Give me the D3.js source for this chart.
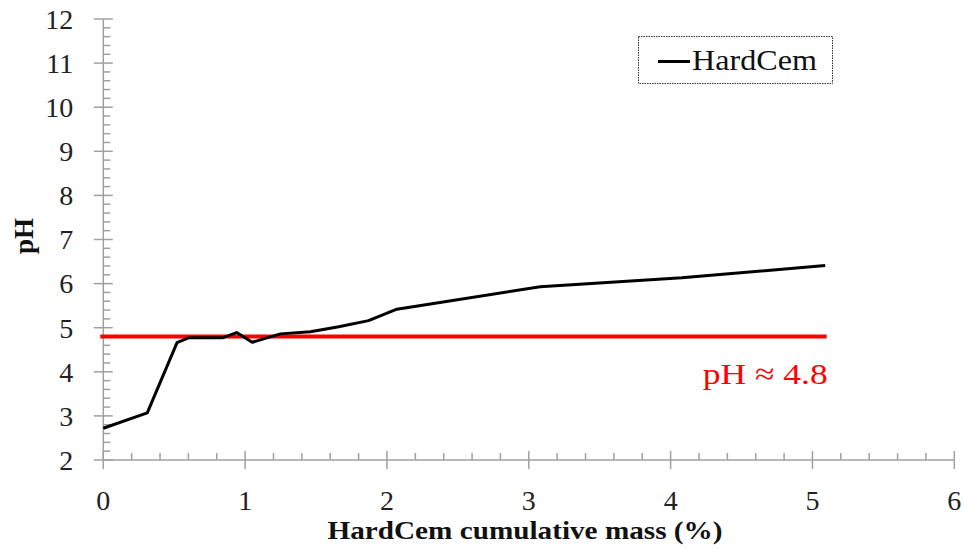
<!DOCTYPE html>
<html>
<head>
<meta charset="utf-8">
<script src="https://cdn.jsdelivr.net/npm/d3@7"></script>
<style>
  html, body { margin: 0; padding: 0; background: #fff; }
  svg { display: block; }
  text { font-family: "Liberation Serif", "DejaVu Serif", serif; }
</style>
</head>
<body>
<svg id="chart" width="964" height="549"></svg>
<script>
// ---- data ----
const massPct = [0, 0.31, 0.52, 0.60, 0.84, 0.94, 1.05, 1.25, 1.46, 1.66, 1.87, 2.07, 3.08, 4.08, 5.09];
const pHValues = [2.72, 3.07, 4.66, 4.77, 4.77, 4.89, 4.67, 4.86, 4.91, 5.02, 5.16, 5.42, 5.93, 6.13, 6.41];
const thresholdPH = 4.8;
const thresholdRange = [0, 5.1];
const xTicks = [0, 1, 2, 3, 4, 5, 6];
const yTicks = [2, 3, 4, 5, 6, 7, 8, 9, 10, 11, 12];
const seriesName = "HardCem";
const thresholdLabel = "pH ≈ 4.8";
const xTitle = "HardCem cumulative mass (%)";
const yTitle = "pH";

// ---- layout ----
const svg = d3.select("#chart");
const x = d3.scaleLinear().domain([0, 6]).range([103.3, 954.3]);
const y = d3.scaleLinear().domain([2, 12]).range([460, 19]);
const axisColor = "#a0a0a0";

const minorX = d3.range(0, 6.0001, 0.2).filter(v => Math.abs(v - Math.round(v)) > 1e-6);
const minorY = d3.range(2, 12.0001, 0.2).filter(v => Math.abs(v - Math.round(v)) > 1e-6);

// Y axis
const gy = svg.append("g").attr("transform", `translate(${x(0)},0)`);
gy.append("line").attr("x1", 0).attr("x2", 0).attr("y1", y(2)).attr("y2", y(12))
  .attr("stroke", axisColor).attr("stroke-width", 1.5);
gy.selectAll("line.minor").data(minorY).enter().append("line")
  .attr("class", "minor")
  .attr("x1", 0).attr("x2", 7).attr("y1", d => y(d)).attr("y2", d => y(d))
  .attr("stroke", axisColor).attr("stroke-width", 1.5);
gy.selectAll("line.major").data(yTicks).enter().append("line")
  .attr("class", "major")
  .attr("x1", -9.5).attr("x2", 9.5).attr("y1", d => y(d)).attr("y2", d => y(d))
  .attr("stroke", axisColor).attr("stroke-width", 1.5);
gy.selectAll("text").data(yTicks).enter().append("text")
  .attr("x", -30).attr("y", d => y(d)).attr("dy", "0.35em")
  .attr("text-anchor", "end").attr("font-size", 28).attr("fill", "#222")
  .text(d => d);

// X axis
const gx = svg.append("g").attr("transform", `translate(0,${y(2)})`);
gx.append("line").attr("x1", x(0)).attr("x2", x(6)).attr("y1", 0).attr("y2", 0)
  .attr("stroke", axisColor).attr("stroke-width", 1.5);
gx.selectAll("line.minor").data(minorX).enter().append("line")
  .attr("class", "minor")
  .attr("x1", d => x(d)).attr("x2", d => x(d)).attr("y1", 0).attr("y2", -7)
  .attr("stroke", axisColor).attr("stroke-width", 1.5);
gx.selectAll("line.major").data(xTicks).enter().append("line")
  .attr("class", "major")
  .attr("x1", d => x(d)).attr("x2", d => x(d)).attr("y1", -9).attr("y2", 9)
  .attr("stroke", axisColor).attr("stroke-width", 1.5);
gx.selectAll("text").data(xTicks).enter().append("text")
  .attr("x", d => x(d)).attr("y", 50)
  .attr("text-anchor", "middle").attr("font-size", 28).attr("fill", "#222")
  .text(d => d);

// Threshold line
svg.append("line")
  .attr("x1", x(thresholdRange[0]) - 3).attr("x2", x(thresholdRange[1]))
  .attr("y1", y(thresholdPH)).attr("y2", y(thresholdPH))
  .attr("stroke", "#ff0000").attr("stroke-width", 4);

svg.append("text")
  .attr("x", x(thresholdRange[1]) + 1).attr("y", 384)
  .attr("text-anchor", "end").attr("font-size", 30).attr("fill", "#ff0000")
  .attr("textLength", 125).attr("lengthAdjust", "spacingAndGlyphs")
  .text(thresholdLabel);

// Series line
const line = d3.line().x((d, i) => x(massPct[i])).y(d => y(d));
svg.append("path").datum(pHValues)
  .attr("d", line).attr("fill", "none")
  .attr("stroke", "#000").attr("stroke-width", 3).attr("stroke-linejoin", "round");

// Legend
const lg = svg.append("g");
lg.append("rect").attr("x", 638.5).attr("y", 36.5).attr("width", 194).attr("height", 47)
  .attr("fill", "#fff").attr("stroke", "#333").attr("stroke-width", 1)
  .attr("stroke-dasharray", "1.5,1");
lg.append("line").attr("x1", 658).attr("x2", 690).attr("y1", 61.5).attr("y2", 61.5)
  .attr("stroke", "#000").attr("stroke-width", 3);
lg.append("text").attr("x", 692).attr("y", 70).attr("font-size", 30).attr("fill", "#111")
  .attr("textLength", 125).attr("lengthAdjust", "spacingAndGlyphs")
  .text(seriesName);

// Axis titles
svg.append("text")
  .attr("x", 525).attr("y", 539).attr("text-anchor", "middle")
  .attr("font-size", 25).attr("font-weight", "bold").attr("fill", "#111")
  .attr("textLength", 395).attr("lengthAdjust", "spacingAndGlyphs")
  .text(xTitle);

svg.append("text")
  .attr("transform", "translate(33,236) rotate(-90)")
  .attr("text-anchor", "middle")
  .attr("font-size", 27).attr("font-weight", "bold").attr("fill", "#111")
  .text(yTitle);
</script>
</body>
</html>
